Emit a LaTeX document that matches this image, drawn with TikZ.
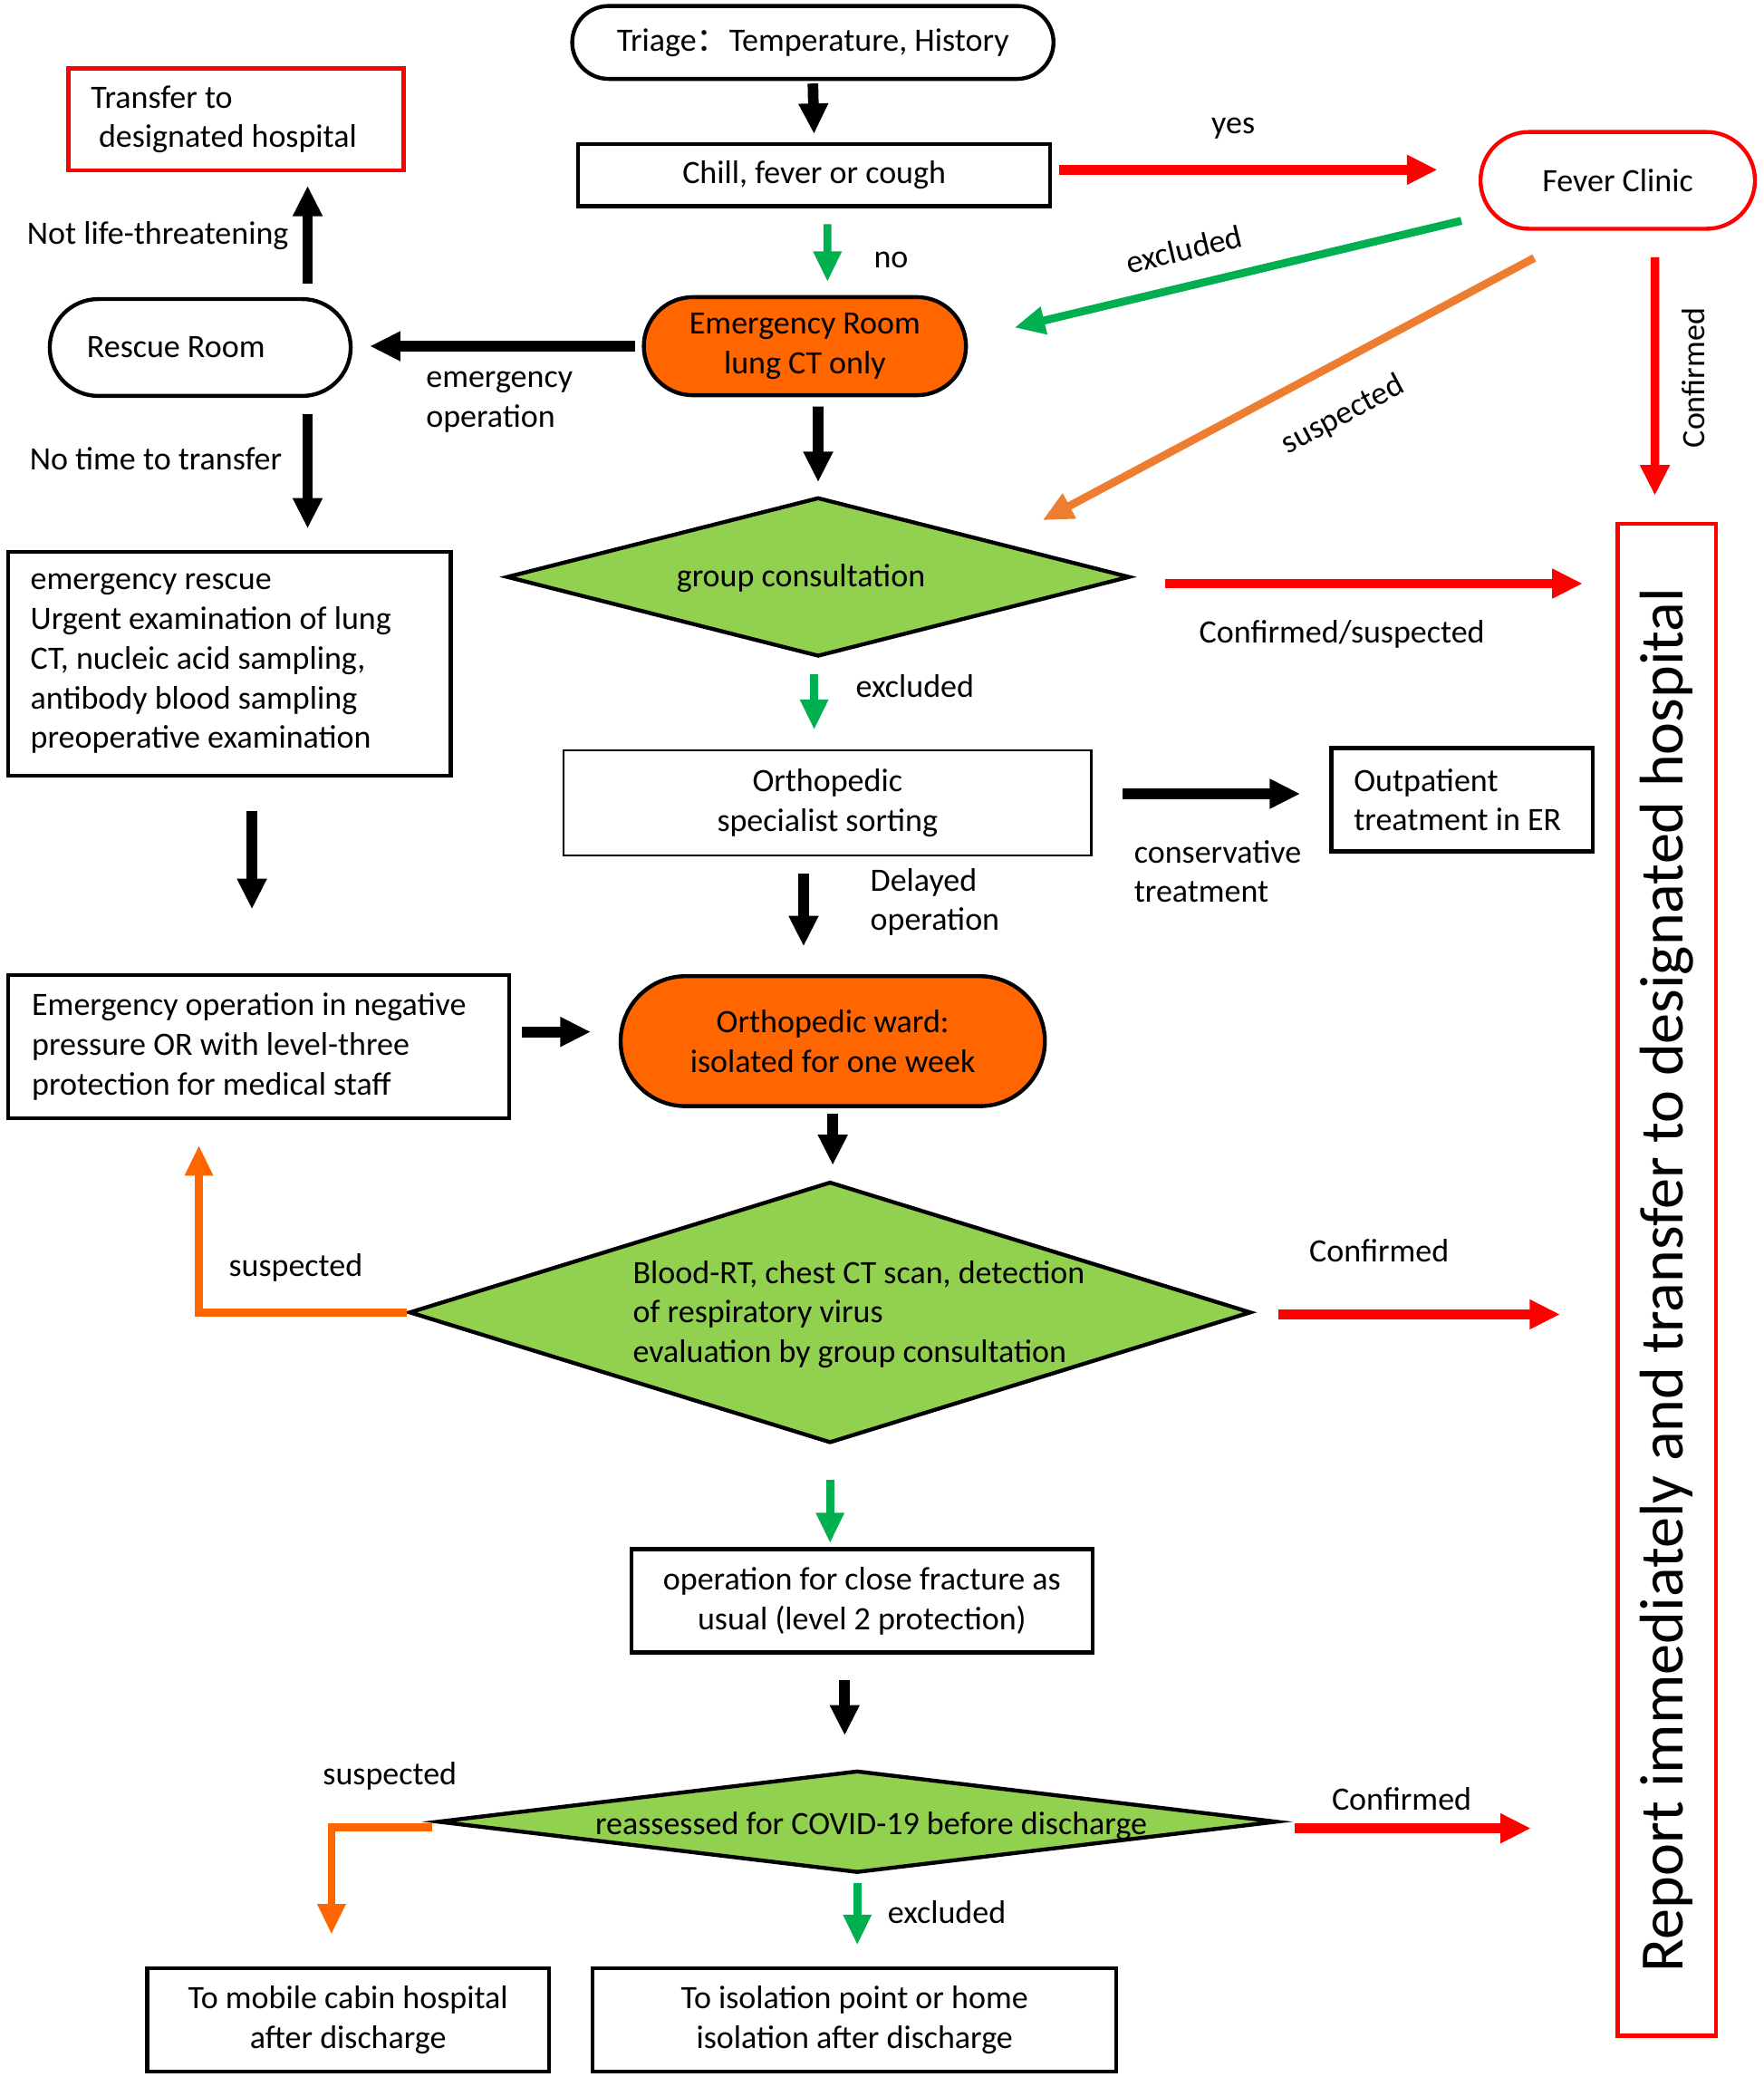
\documentclass[tikz,border=0pt]{standalone}
\usepackage{fontspec}
\setmainfont{Carlito}
\newfontfamily\cjkfont{Noto Sans CJK SC}
\usetikzlibrary{arrows.meta,shapes.geometric,calc}
\definecolor{ored}{HTML}{FF0000}
\definecolor{ogreen}{HTML}{00B050}
\definecolor{dgreen}{HTML}{92D050}
\definecolor{oorange}{HTML}{FF6600}
\definecolor{lorange}{HTML}{ED7D31}
\tikzset{
  box/.style={draw=black, line width=1.7pt, rectangle, inner sep=0pt, align=center},
  lbox/.style={box, align=flush left},
  dia/.style={diamond, draw=black, line width=1.7pt, fill=dgreen, inner sep=0pt},
  lbl/.style={inner sep=0pt},
  arrk/.style={line width=0.16cm, draw=black, -{Triangle[length=0.46cm,width=0.42cm]}},
  arrr/.style={line width=0.15cm, draw=ored, -{Triangle[length=0.46cm,width=0.42cm]}},
  arrg/.style={line width=0.12cm, draw=ogreen, -{Triangle[length=0.46cm,width=0.4cm]}},
  arro/.style={line width=0.12cm, draw=oorange, line join=miter, -{Triangle[length=0.46cm,width=0.4cm]}},
  arrlo/.style={line width=0.12cm, draw=lorange, -{Triangle[length=0.46cm,width=0.4cm]}},
}
\begin{document}
\begin{tikzpicture}[x=0.02cm,y=-0.02cm, font=\fontsize{14pt}{17pt}\selectfont]
\useasboundingbox (0,0) rectangle (1329.6,1566);
\fill[white] (0,0) rectangle (1329.6,1566);

% nodes
\node[box, minimum width=7.26cm, minimum height=1.1cm, rounded corners=0.55cm] (tri) at (613,32) {Triage{\cjkfont ：}Temperature, History};
\node[box, minimum width=7.12cm, minimum height=0.94cm] (chill) at (614,132) {Chill, fever or cough};
\node[box, draw=ored, minimum width=4.14cm, minimum height=1.46cm, rounded corners=0.73cm] (fever) at (1220,136) {Fever Clinic};
\node[box, fill=oorange, minimum width=4.86cm, minimum height=1.48cm, rounded corners=0.74cm] (er) at (607,261) {Emergency Room\\lung CT only};
\node[lbox, text width=3.42cm, inner xsep=0.56cm, minimum height=1.46cm, rounded corners=0.73cm] (rescue) at (151,262) {Rescue Room};
\node[lbox, draw=ored, text width=4.38cm, inner xsep=0.34cm, minimum height=1.54cm] (transfer) at (178,90) {Transfer to\\\hspace*{0.12cm}designated hospital};
\node[lbox, text width=6cm, inner xsep=0.34cm, minimum height=3.38cm] (erescue) at (173,500.5) {emergency rescue\\Urgent examination of lung\\CT, nucleic acid sampling,\\antibody blood sampling\\preoperative examination};
\node[dia, minimum width=9.4cm, minimum height=2.4cm] (gc) at (617,435) {};
\node[lbl] (gct) at (604,436) {group consultation};
\node[box, line width=0.8pt, minimum width=7.96cm, minimum height=1.58cm] (ortho) at (624,605.5) {Orthopedic\\specialist sorting};
\node[lbox, text width=3.26cm, inner xsep=0.34cm, minimum height=1.56cm] (outp) at (1102.5,603) {Outpatient\\treatment in ER};
\node[lbox, text width=6.84cm, inner xsep=0.36cm, minimum height=2.16cm] (emop) at (195,789) {Emergency operation in negative\\pressure OR with level-three\\protection for medical staff};
\node[box, fill=oorange, minimum width=6.4cm, minimum height=1.96cm, rounded corners=0.98cm] (ward) at (628,785) {Orthopedic ward:\\isolated for one week};
\node[dia, minimum width=12.7cm, minimum height=3.94cm] (d2) at (626,989.5) {};
\node[lbl, anchor=west, align=flush left] (d2t) at (477,991) {Blood-RT, chest CT scan, detection\\of respiratory virus\\evaluation by group consultation};
\node[box, minimum width=6.96cm, minimum height=1.56cm] (oper) at (650,1207) {operation for close fracture as\\usual (level 2 protection)};
\node[dia, minimum width=12.66cm, minimum height=1.54cm] (d3) at (646.5,1373.5) {};
\node[lbl] (d3t) at (657,1377) {reassessed for COVID-19 before discharge};
\node[box, minimum width=6.06cm, minimum height=1.56cm] (mobile) at (262.5,1523) {To mobile cabin hospital\\after discharge};
\node[box, minimum width=7.9cm, minimum height=1.56cm] (iso) at (644.5,1523) {To isolation point or home\\isolation after discharge};
\node[box, draw=ored, minimum width=1.48cm, minimum height=22.8cm] (bigred) at (1257,965) {};
\node[lbl, rotate=90, font=\fontsize{26.5pt}{30pt}\selectfont] (bigt) at (bigred.center) {Report immediately and transfer to designated hospital};

% connectors
\draw[arrk, shorten <=0.04cm, shorten >=0.12cm] (tri.south) -- (chill.north);
\draw[arrr, shorten <=0.1cm, shorten >=0.62cm] ([yshift=0.08cm]chill.east) -- ([yshift=0.08cm]chill.east -| fever.west);
\node[lbl] (lyes) at (930,97) {yes};
\draw[arrg, shorten <=0.24cm, shorten >=0.2cm] ([xshift=0.2cm]chill.south) -- ([xshift=0.34cm]er.north);
\node[lbl] (lno) at (672,196) {no};
\draw[arrg] ([xshift=-0.26cm,yshift=0.15cm]fever.south west) -- ([xshift=0.7cm,yshift=0.28cm]er.east);
\node[lbl, rotate=13.5] (lexc1) at (893,188) {excluded};
\draw[arrlo] ([xshift=-1.26cm,yshift=-0.41cm]fever.south) -- ([xshift=1.02cm,yshift=0.24cm]gc.north east);
\node[lbl, rotate=28] (lsus1) at (1013,313) {suspected};
\draw[arrr, line width=0.13cm] ([xshift=0.56cm,yshift=-0.4cm]fever.south) -- ([xshift=-0.18cm,yshift=0.4cm]bigred.north);
\node[lbl, rotate=90] (lconf1) at (1277,285) {Confirmed};

\draw[arrk, shorten <=0.1cm, shorten >=0.26cm] (er.west) -- (er.west -| rescue.east);
\node[lbl, anchor=west, align=flush left] (lemop) at (321,303) {emergency\\operation};
\draw[arrk, shorten <=0.2cm, shorten >=0.2cm] ([xshift=1.62cm]rescue.north) -- ([xshift=1.62cm]rescue.north |- transfer.south);
\node[lbl] (lnlt) at (119,178) {Not life-threatening};
\draw[arrk, shorten <=0.24cm, shorten >=0.32cm] ([xshift=1.62cm]rescue.south) -- ([xshift=1.62cm]rescue.south |- erescue.north);
\node[lbl] (lntt) at (117.5,346) {No time to transfer};

\draw[arrk, shorten <=0.14cm, shorten >=0.2cm] ([xshift=0.2cm]er.south) -- (gc.north);
\draw[arrr, shorten <=0.5cm, shorten >=0.5cm] ([yshift=-0.1cm]gc.east) -- ([yshift=-0.1cm]gc.east -| bigred.west);
\node[lbl] (lcs) at (1012,478) {Confirmed/suspected};
\draw[arrg, shorten <=0.24cm, shorten >=0.3cm] ([xshift=-0.06cm]gc.south) -- ([xshift=-0.06cm]gc.south |- ortho.north);
\node[lbl] (lexc2) at (690,517) {excluded};

\draw[arrk, shorten <=0.46cm, shorten >=0.44cm] ([yshift=0.14cm]ortho.east) -- ([yshift=0.14cm]ortho.east -| outp.west);
\node[lbl, anchor=west, align=flush left] (lcons) at (855,657) {conservative\\treatment};
\draw[arrk, shorten <=0.26cm, shorten >=0.42cm] ([xshift=-0.36cm]ortho.south) -- ([xshift=-0.36cm]ortho.south |- ward.north);
\node[lbl, anchor=west, align=flush left] (ldel) at (656,680) {Delayed\\operation};

\draw[arrk, shorten <=0.5cm, shorten >=0.96cm] ([xshift=0.34cm]erescue.south) -- ([xshift=0.34cm]erescue.south |- emop.north);
\draw[arrk, shorten <=0.16cm, shorten >=0.42cm] ([yshift=0.22cm]emop.east) -- ([yshift=0.22cm]emop.east -| ward.west);
\draw[arrk, shorten <=0.08cm, shorten >=0.22cm] (ward.south) -- (ward.south |- d2.north);

\draw[arro, shorten >=0.38cm] (d2.west) -| ([xshift=-0.9cm]emop.south);
\node[lbl] (lsus2) at (223,956) {suspected};
\draw[arrr, shorten <=0.38cm, shorten >=0.84cm] ([yshift=-0.03cm]d2.east) -- ([yshift=-0.03cm]d2.east -| bigred.west);
\node[lbl] (lconf2) at (1040,943) {Confirmed};
\draw[arrg, shorten <=0.52cm, shorten >=0.06cm] (d2.south) -- (d2.south |- oper.north);

\draw[arrk, shorten <=0.38cm, shorten >=0.5cm] ([xshift=-0.26cm]oper.south) -- ([xshift=-0.26cm]oper.south |- d3.north);
\draw[arro, shorten >=0.48cm] ([yshift=-0.08cm,xshift=-0.06cm]d3.west) -| ([xshift=-0.25cm]mobile.north);
\node[lbl] (lsus3) at (294,1339) {suspected};
\draw[arrr, shorten <=0.24cm, shorten >=1.28cm] ([yshift=-0.1cm]d3.east) -- ([yshift=-0.1cm]d3.east -| bigred.west);
\node[lbl] (lconf3) at (1057,1356) {Confirmed};
\draw[arrg, shorten <=0.12cm, shorten >=0.32cm] (d3.south) -- (d3.south |- iso.north);
\node[lbl] (lexc3) at (714,1442) {excluded};
\end{tikzpicture}
\end{document}
